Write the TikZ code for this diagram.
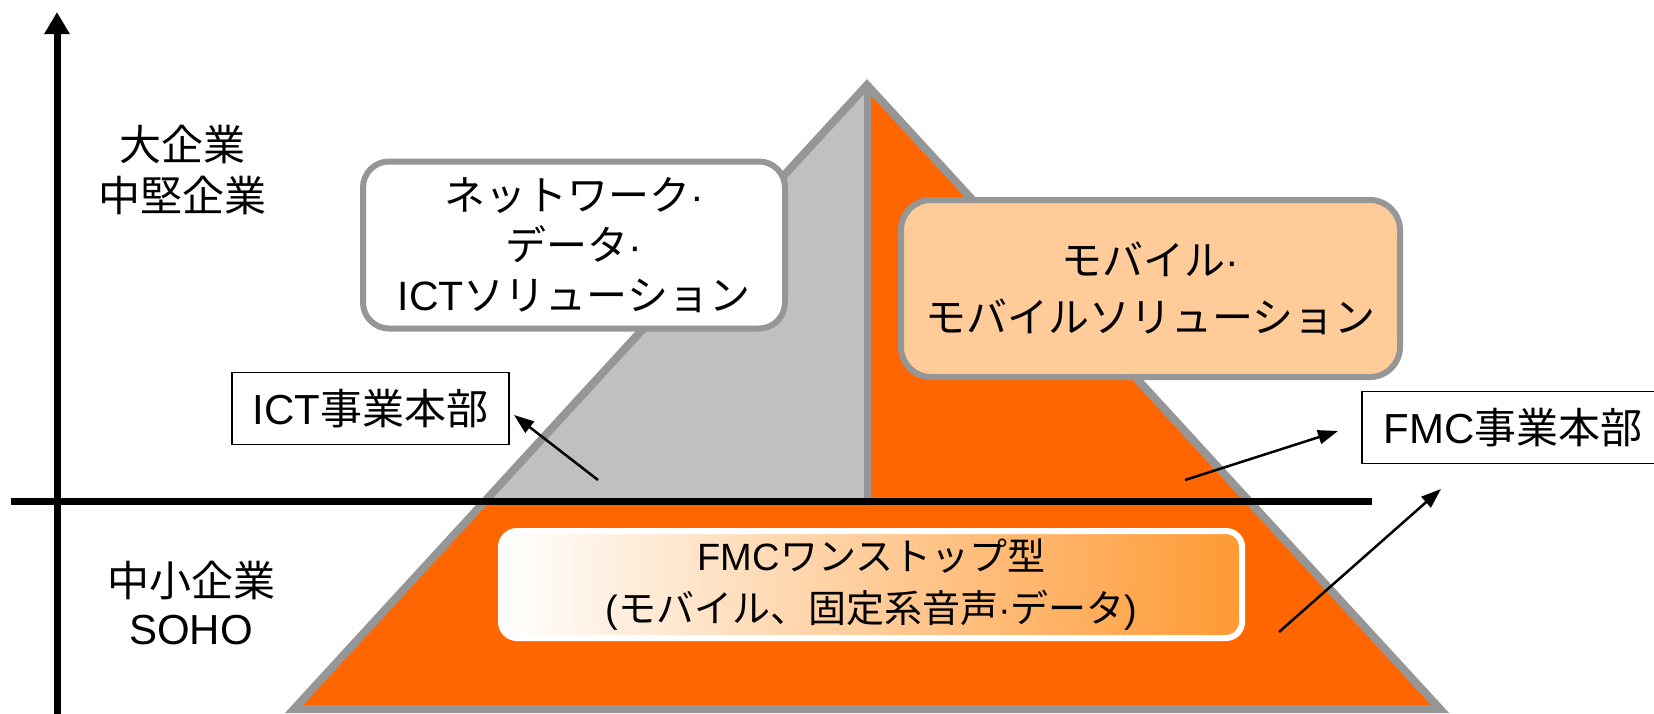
\documentclass[tikz,border=0pt]{standalone}
\usepackage{fontspec}
\setmainfont{Noto Sans CJK JP}
\newfontfamily\lat{Liberation Sans}
\newcommand{\mdot}{{\lat ·}}
\usetikzlibrary{arrows.meta,shadings}
\definecolor{pgray}{RGB}{150,150,150}
\definecolor{lgray}{RGB}{192,192,192}
\definecolor{orng}{RGB}{255,102,0}
\definecolor{peach}{RGB}{255,204,153}
\definecolor{gradR}{RGB}{255,153,51}
\begin{document}
\begin{tikzpicture}[x=1pt,y=-1pt,
  txt/.style={align=center, inner sep=0pt},
  rbox/.style={draw=pgray, line width=6pt, rounded corners=26pt, align=center, inner sep=0pt},
  lbox/.style={draw=black, line width=1.5pt, align=center, inner sep=0pt, fill=white,
     minimum height=72pt, font=\fontsize{42}{50}\selectfont},
  arr/.style={line width=2.5pt, -{Triangle[length=20pt,width=14pt]}},
  axis/.style={line width=7pt}]
\useasboundingbox (0,0) rectangle (1654,713);
% pyramid
\coordinate (apex) at (867,85);
\coordinate (bl) at (294,709);
\coordinate (br) at (1440,709);
\coordinate (gl) at (485,501);
\coordinate (gc) at (867,501);
\fill[orng] (apex) -- (bl) -- (br) -- cycle;
\fill[lgray] (apex) -- (gl) -- (gc) -- cycle;
\draw[pgray, line width=7pt] (apex) -- (gc);
\draw[pgray, line width=8pt, line join=miter] (apex) -- (bl) -- (br) -- cycle;
% axes
\coordinate (hx0) at (11,501);
\coordinate (hx1) at (1372,501);
\coordinate (vy0) at (57,716);
\coordinate (vy1) at (57,12);
\draw[axis] (hx0) -- (hx1);
\draw[axis, -{Triangle[length=22pt,width=24pt]}] (vy0) -- (vy1);
% left labels
\node[txt, font=\fontsize{42}{51}\selectfont] (large) at (182,170) {大企業\\中堅企業};
\node[txt, font=\fontsize{42}{48}\selectfont] (small) at (191,603) {中小企業\\{\lat SOHO}};
% boxes
\node[rbox, fill=white, minimum width=422pt, minimum height=167pt,
      font=\fontsize{41}{50}\selectfont] (net) at (574,245)
  {ネットワーク\mdot\\データ\mdot\\{\lat ICT}ソリューション};
\node[rbox, fill=peach, minimum width=499pt, minimum height=177pt, rounded corners=30pt,
      font=\fontsize{41}{57}\selectfont] (mob) at (1150.5,288.5)
  {モバイル\mdot\\モバイルソリューション};
\node[draw=white, line width=6pt, rounded corners=16pt, left color=white, right color=gradR,
      minimum width=741pt, minimum height=107pt, align=center, inner sep=0pt,
      font=\fontsize{38}{52}\selectfont] (fmc1) at (871.5,584.5)
  {{\lat FMC}ワンストップ型\\{\lat (}モバイル、固定系音声\mdot データ{\lat )}};
\node[lbox, minimum width=277pt] (ict) at (370.5,408.5) {{\lat ICT}事業本部};
\node[lbox, minimum width=302pt] (fmc) at (1513,427.5) {{\lat FMC}事業本部};
% arrows
\coordinate (a1s) at (598,480);
\coordinate (a1e) at (514,415);
\coordinate (a2s) at (1185,480);
\coordinate (a2e) at (1338,431);
\coordinate (a3s) at (1279,632);
\coordinate (a3e) at (1441,489);
\draw[arr] (a1s) -- (a1e);
\draw[arr] (a2s) -- (a2e);
\draw[arr] (a3s) -- (a3e);
\end{tikzpicture}
\end{document}
